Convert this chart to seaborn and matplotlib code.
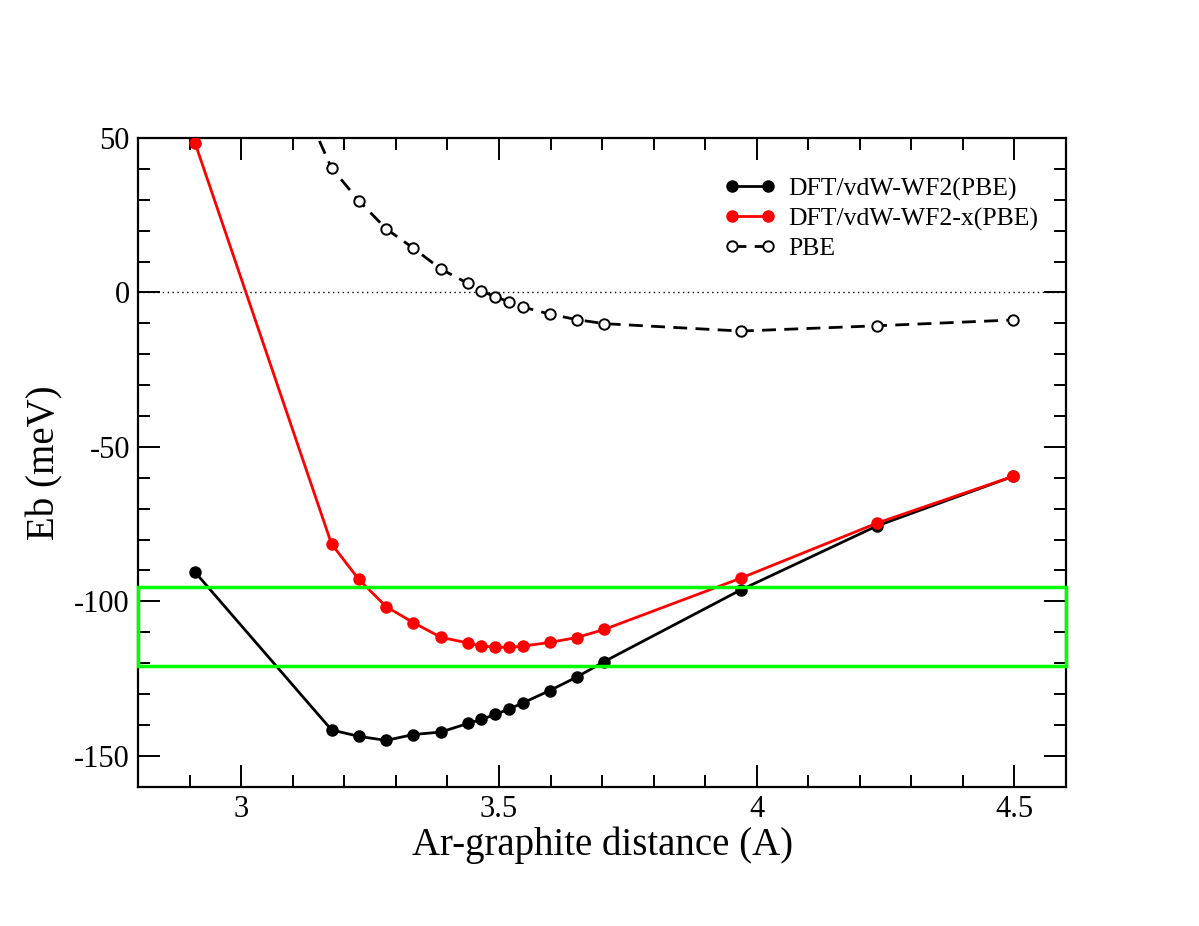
import matplotlib
matplotlib.use("Agg")
from matplotlib import pyplot as plt
from matplotlib.patches import Rectangle
from matplotlib.ticker import MultipleLocator
import seaborn as sns

# Ar-graphite distance (A) -- grid is 0.1 bohr steps
distance = [2.910, 3.175, 3.228, 3.281, 3.334, 3.387, 3.440, 3.466, 3.493,
            3.519, 3.546, 3.598, 3.651, 3.704, 3.969, 4.233, 4.498]

# binding energies (meV)
eb_wf2 = [-90.5, -141.6, -143.7, -145.0, -143.1, -142.3, -139.5, -138.2, -136.6,
          -134.9, -132.9, -128.9, -124.5, -119.5, -96.3, -75.6, -59.5]
eb_wf2x = [48.5, -81.4, -92.9, -101.7, -106.9, -111.6, -113.5, -114.5, -114.8,
           -114.9, -114.5, -113.3, -111.7, -109.1, -92.5, -74.7, -59.5]
eb_pbe = [139.0, 40.3, 29.7, 20.6, 14.3, 7.6, 2.9, 0.4, -1.4,
          -3.0, -4.7, -7.0, -8.8, -10.1, -12.5, -10.8, -8.9]

labels = ["DFT/vdW-WF2(PBE)", "DFT/vdW-WF2-x(PBE)", "PBE"]

# highlighted band
band_lo, band_hi = -121.0, -95.3

sns.set_style("ticks")
plt.rcParams["font.family"] = ["Liberation Serif", "DejaVu Serif"]
plt.rcParams["axes.unicode_minus"] = False
plt.rcParams["text.color"] = "black"
plt.rcParams["axes.labelcolor"] = "black"

fig = plt.figure(figsize=(11.99, 9.26), dpi=100)
ax = fig.add_axes([0.1153, 0.1504, 0.7737, 0.7006])

ax.axhline(0, color="black", lw=1.0, ls=(0, (1, 2.5)), zorder=1)

sns.lineplot(x=distance, y=eb_wf2, ax=ax, color="black", lw=2.0, marker="o",
             markersize=9, markeredgewidth=0, label=labels[0], zorder=3)
sns.lineplot(x=distance, y=eb_wf2x, ax=ax, color="red", lw=2.0, marker="o",
             markersize=9, markeredgewidth=0, label=labels[1], zorder=4)
sns.lineplot(x=distance, y=eb_pbe, ax=ax, color="black", lw=2.0, marker="o",
             markersize=7.5, markerfacecolor="white", markeredgecolor="black",
             markeredgewidth=1.4, dashes=(5, 3), label=labels[2], zorder=5)

ax.add_patch(Rectangle((2.8, band_lo), 1.8, band_hi - band_lo, fill=False,
                       edgecolor="#00ff00", lw=2.5, clip_on=False, zorder=6))

ax.set_xlim(2.8, 4.6)
ax.set_ylim(-160, 50)
ax.xaxis.set_major_locator(MultipleLocator(0.5))
ax.xaxis.set_minor_locator(MultipleLocator(0.1))
ax.yaxis.set_major_locator(MultipleLocator(50))
ax.yaxis.set_minor_locator(MultipleLocator(10))
ax.xaxis.set_major_formatter(plt.FuncFormatter(lambda v, p: f"{v:g}"))
ax.yaxis.set_major_formatter(plt.FuncFormatter(lambda v, p: f"{v:g}"))

ax.tick_params(which="both", direction="in", top=True, right=True,
               width=1.4, labelsize=22, color="black", labelcolor="black")
ax.tick_params(axis="x", which="major", length=16, pad=6)
ax.tick_params(axis="y", which="major", length=16, pad=6)
ax.tick_params(which="minor", length=8.5)
for s in ax.spines.values():
    s.set_linewidth(1.6)
    s.set_color("black")
    s.set_visible(True)

ax.set_xlabel("Ar-graphite distance (A)", fontsize=28, labelpad=2)
ax.set_ylabel("Eb (meV)", fontsize=28, labelpad=8)

ax.legend(loc="upper right", frameon=False, numpoints=2, fontsize=18.5,
          handlelength=2.0, handletextpad=0.5, labelspacing=0.25,
          bbox_to_anchor=(0.995, 0.975))

plt.savefig("out.png", dpi=100)
plt.close()
